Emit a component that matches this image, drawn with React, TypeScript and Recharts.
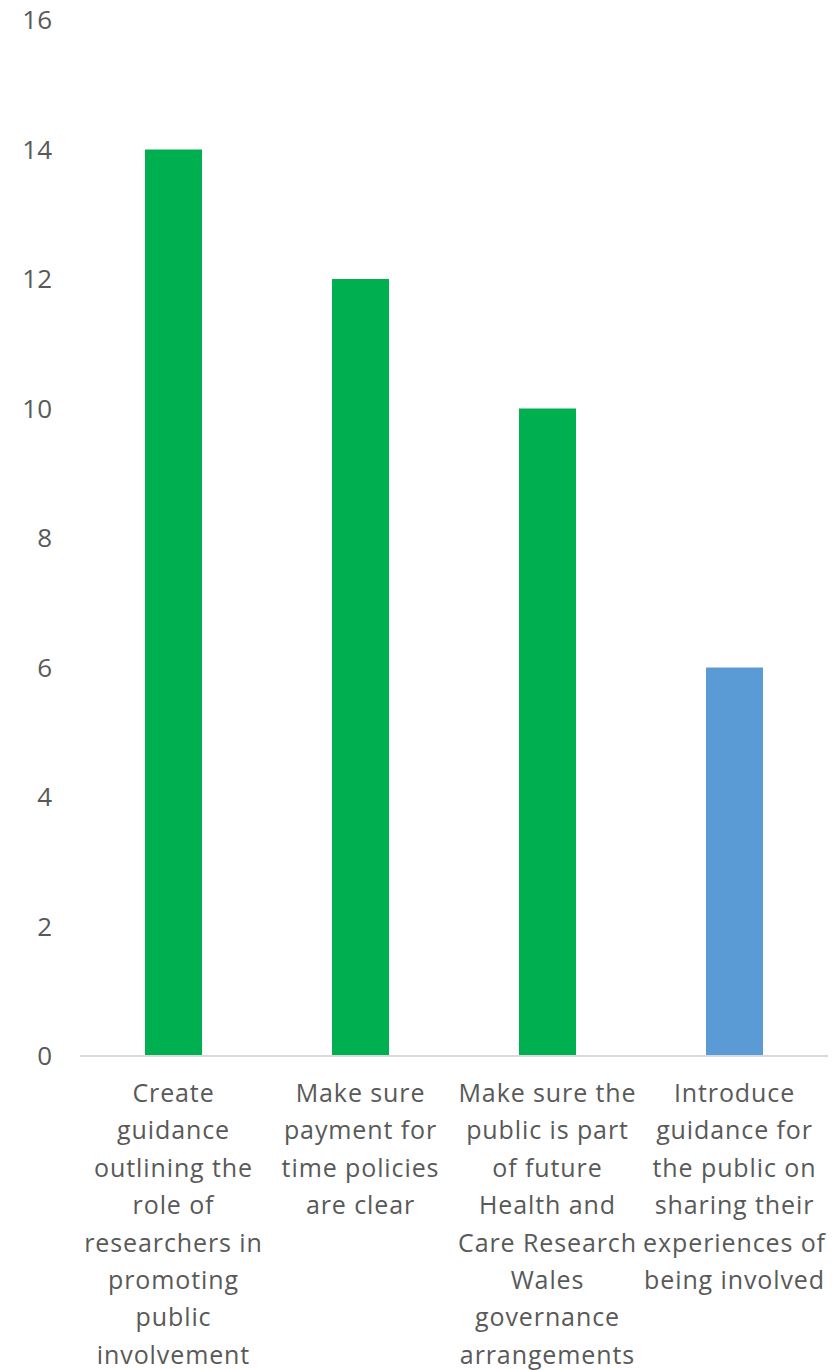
import { BarChart, Bar, XAxis, YAxis, Cell } from "recharts";

const categories = [
  "Create\nguidance\noutlining the\nrole of\nresearchers in\npromoting\npublic\ninvolvement",
  "Make sure\npayment for\ntime policies\nare clear",
  "Make sure the\npublic is part\nof future\nHealth and\nCare Research\nWales\ngovernance\narrangements",
  "Introduce\nguidance for\nthe public on\nsharing their\nexperiences of\nbeing involved",
];
const values = [14, 12, 10, 6];
const barColors = ["#00B050", "#00B050", "#00B050", "#5B9BD5"];
const yTicks = [0, 2, 4, 6, 8, 10, 12, 14, 16];

const data = categories.map((name, i) => ({ name, value: values[i] }));

const FONT = "'Open Sans', Lato, sans-serif";

function CategoryTick(props: any) {
  const { x, y, payload } = props;
  const lines = String(payload.value).split("\n");
  return (
    <g transform={`translate(${x},${y})`}>
      {lines.map((line: string, i: number) => (
        <text
          key={i}
          x={0}
          y={38 + i * 37.4}
          textAnchor="middle"
          fill="#595959"
          fontSize={25}
          letterSpacing={0.9}
          fontFamily={FONT}
        >
          {line}
        </text>
      ))}
    </g>
  );
}

export default function App() {
  return (
    <div style={{ position: "absolute", left: 0, top: 0, background: "#fff" }}>
      <BarChart
        width={839}
        height={1370}
        data={data}
        margin={{ top: 20, right: 11, bottom: 0, left: 0 }}
      >
        <XAxis
          dataKey="name"
          height={314}
          interval={0}
          axisLine={{ stroke: "#d9d9d9", strokeWidth: 2 }}
          tickLine={false}
          tick={<CategoryTick />}
        />
        <YAxis
          width={80}
          domain={[0, 16]}
          ticks={yTicks}
          axisLine={false}
          tickLine={false}
          tickSize={0}
          tickMargin={28}
          tick={{ fill: "#595959", fontSize: 26, fontFamily: FONT }}
        />
        <Bar dataKey="value" barSize={57} isAnimationActive={false}>
          {data.map((d, i) => (
            <Cell key={d.name} fill={barColors[i]} />
          ))}
        </Bar>
      </BarChart>
    </div>
  );
}
